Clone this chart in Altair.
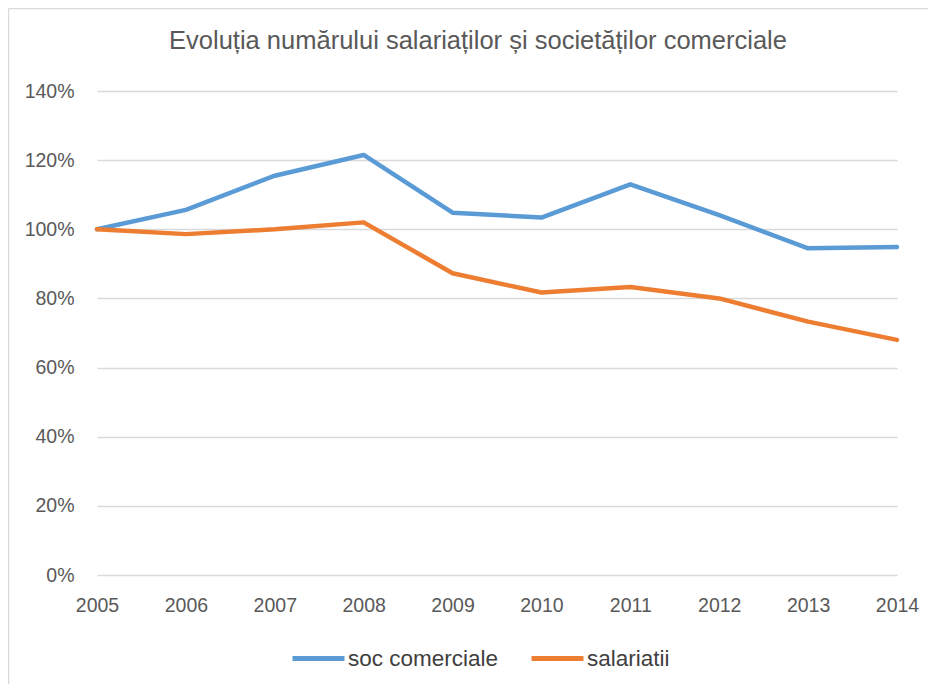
import altair as alt
import pandas as pd

years = [2005, 2006, 2007, 2008, 2009, 2010, 2011, 2012, 2013, 2014]
soc_comerciale = [1.00, 1.056, 1.155, 1.215, 1.048, 1.034, 1.130, 1.041, 0.945, 0.949]
salariatii = [1.00, 0.986, 1.000, 1.020, 0.873, 0.817, 0.833, 0.800, 0.733, 0.680]
series_names = ["soc comerciale", "salariatii"]
series_colors = ["#5B9BD5", "#ED7D31"]
title_text = "Evoluția numărului salariaților și societăților comerciale"

rows = []
for name, vals in zip(series_names, [soc_comerciale, salariatii]):
    for y, v in zip(years, vals):
        rows.append({"an": y, "valoare": v, "serie": name})
df = pd.DataFrame(rows)

FONT = "Liberation Sans, Arial, sans-serif"
GRAY = "#595959"

lines = alt.Chart(df).mark_line(
    strokeWidth=4.5, strokeCap="round", strokeJoin="round"
).encode(
    x=alt.X("an:Q", scale=alt.Scale(domain=[2005, 2014], nice=False, zero=False),
            axis=alt.Axis(title=None, format="d", values=years, tickCount=10,
                          labelFontSize=19.5, labelColor=GRAY, labelFont=FONT,
                          ticks=False, domain=False, grid=False, labelPadding=21,
                          labelFlush=False)),
    y=alt.Y("valoare:Q", scale=alt.Scale(domain=[0, 1.4], nice=False),
            axis=alt.Axis(title=None, format=".0%", values=[0, 0.2, 0.4, 0.6, 0.8, 1.0, 1.2, 1.4],
                          labelFontSize=19.5, labelColor=GRAY, labelFont=FONT,
                          ticks=False, domain=False, gridColor="#D9D9D9", gridWidth=1.5,
                          labelPadding=23)),
    color=alt.Color("serie:N", scale=alt.Scale(domain=series_names, range=series_colors),
                    legend=alt.Legend(title=None, orient="none", legendX=193, legendY=539,
                                      direction="horizontal", symbolType="stroke",
                                      symbolSize=2700, symbolStrokeWidth=5,
                                      labelFontSize=22.5, labelColor="#404040", labelFont=FONT,
                                      labelOffset=1, columnPadding=22, labelLimit=300)),
    order=alt.Order("an:Q"),
)

frame = pd.DataFrame({"a": [0]})
border_top = alt.Chart(frame).mark_rule(stroke="#D9D9D9", strokeWidth=1.5).encode(
    x=alt.value(-88.5), x2=alt.value(850), y=alt.value(-82.5)
)
border_left = alt.Chart(frame).mark_rule(stroke="#D9D9D9", strokeWidth=1.5).encode(
    x=alt.value(-88.5), y=alt.value(-82.5), y2=alt.value(610)
)

chart = alt.layer(border_top, border_left, lines).properties(
    width=800, height=484,
    title=alt.TitleParams(title_text, fontSize=25.5, color=GRAY, font=FONT,
                          fontWeight="normal", anchor="middle", dx=-19,
                          baseline="alphabetic", offset=0, dy=67),
    autosize=alt.AutoSizeParams(type="none"),
    padding={"left": 89, "top": 83, "right": 31, "bottom": 109},
).configure_view(stroke=None)

chart.save("out.html", embed_options={"renderer": "svg", "actions": False})
